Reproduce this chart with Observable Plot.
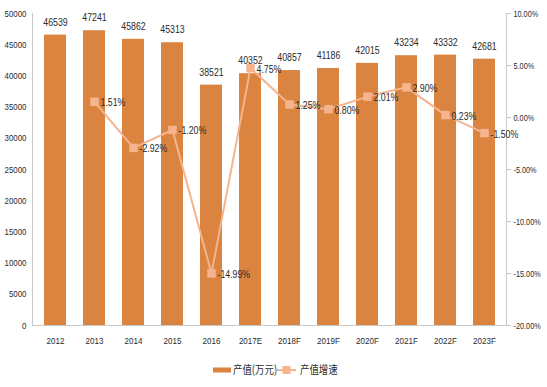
<!DOCTYPE html>
<html>
<head>
<meta charset="utf-8">
<script src="https://cdn.jsdelivr.net/npm/d3@7"></script>
<script src="https://cdn.jsdelivr.net/npm/@observablehq/plot@0.6"></script>
<style>
  body { margin: 0; background: #fff; font-family: "Liberation Sans", sans-serif; }
  #wrap { width: 547px; height: 387px; }
  #wrap svg { display: block; }
</style>
</head>
<body>
<div id="wrap"></div>
<script>
const years = ["2012","2013","2014","2015","2016","2017E","2018F","2019F","2020F","2021F","2022F","2023F"];
const output = [46539,47241,45862,45313,38521,40352,40857,41186,42015,43234,43332,42681];
const growth = [null,1.51,-2.92,-1.20,-14.99,4.75,1.25,0.80,2.01,2.90,0.23,-1.50];
const leftTicks = [0,5000,10000,15000,20000,25000,30000,35000,40000,45000,50000];
const rightTicks = [-20,-15,-10,-5,0,5,10];
const seriesNames = ["产值(万元)", "产值增速"];

const barColor = "#DA843F";
const lineColor = "#F5B38E";
const textColor = "#2b2b2b";
const yMax = 50000, gMin = -20, gMax = 10;
const toY = g => (g - gMin) / (gMax - gMin) * yMax;

const data = years.map((y, i) => ({year: y, v: output[i], g: growth[i]}));
const gdata = data.filter(d => d.g != null);

const chart = Plot.plot({
  width: 547,
  height: 352,
  marginTop: 13,
  marginBottom: 27,
  marginLeft: 32,
  marginRight: 41,
  style: {fontFamily: "Liberation Sans, sans-serif", fontSize: "10px", color: textColor, background: "transparent"},
  x: {domain: years, paddingInner: 0.44, paddingOuter: 0.22, label: null},
  y: {domain: [0, yMax], label: null},
  marks: [
    Plot.barY(data, {x: "year", y: "v", fill: barColor}),
    Plot.text(data, {x: "year", y: "v", text: d => String(d.v), dy: -13, fill: textColor, fontSize: 10.7}),
    Plot.ruleY([0], {stroke: "#c8c8c8"}),
    Plot.frame({anchor: "left", stroke: "#c8c8c8"}),
    Plot.frame({anchor: "right", stroke: "#c8c8c8"}),
    Plot.axisY(leftTicks, {anchor: "left", tickSize: 0, tickPadding: 6, tickFormat: d => String(d), fill: textColor, fontSize: 9.6}),
    Plot.axisY(rightTicks.map(toY), {anchor: "right", tickSize: 4, tickPadding: 3, stroke: "#c8c8c8",
      tickFormat: (d, i) => rightTicks[i].toFixed(2) + "%", fill: textColor, fontSize: 9.6, className: "raxis"}),
    Plot.axisX({tickSize: 0, tickPadding: 12, fill: textColor, fontSize: 9.8}),
    Plot.line(gdata, {x: "year", y: d => toY(d.g), stroke: lineColor, strokeWidth: 2}),
    Plot.dot(gdata, {x: "year", y: d => toY(d.g), symbol: "square", r: 4.8, fill: lineColor, stroke: "none"}),
    Plot.text(gdata, {x: "year", y: d => toY(d.g), text: d => d.g.toFixed(2) + "%", textAnchor: "start", dx: 6, dy: 1, fill: textColor, fontSize: 10.7})
  ]
});
document.getElementById("wrap").appendChild(chart);

// legend below the plot
const lg = d3.select("#wrap").append("svg").attr("width", 547).attr("height", 35)
  .style("font-family", "Noto Sans CJK SC, sans-serif").style("font-size", "11.5px");
lg.append("rect").attr("x", 213).attr("y", 15.5).attr("width", 18).attr("height", 5).attr("fill", barColor);
lg.append("text").attr("x", 233).attr("y", 18).attr("dy", "0.36em").attr("fill", textColor).text(seriesNames[0]);
lg.append("line").attr("x1", 277).attr("x2", 296).attr("y1", 18).attr("y2", 18).attr("stroke", lineColor).attr("stroke-width", 2);
lg.append("rect").attr("x", 282.5).attr("y", 14).attr("width", 8).attr("height", 8).attr("fill", lineColor);
lg.append("text").attr("x", 300).attr("y", 18).attr("dy", "0.36em").attr("fill", textColor).text(seriesNames[1]);

// narrow the glyphs like the condensed face in the reference
d3.selectAll("#wrap svg text").each(function() {
  const len = this.getComputedTextLength();
  if (len > 0) {
    const k = this.closest(".raxis") ? 0.76 : 0.82;
    this.setAttribute("textLength", (len * k).toFixed(1));
    this.setAttribute("lengthAdjust", "spacingAndGlyphs");
  }
});
</script>
</body>
</html>
